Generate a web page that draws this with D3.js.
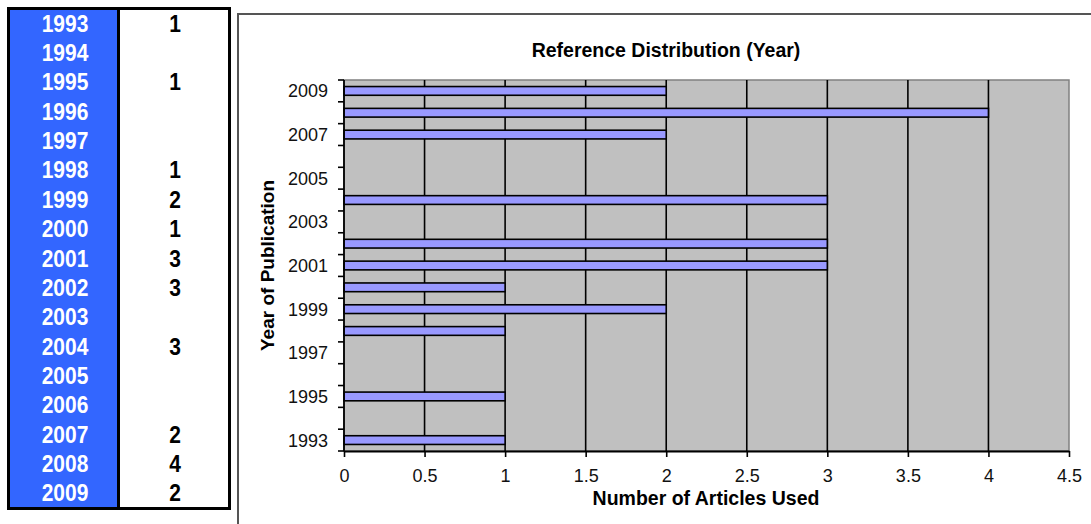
<!DOCTYPE html>
<html>
<head>
<meta charset="utf-8">
<script src="https://cdn.jsdelivr.net/npm/d3@7"></script>
<style>
  body { margin: 0; background: #fff; }
  text { font-family: "Liberation Sans", Arial, sans-serif; }
</style>
</head>
<body>
<svg id="drawing_region"></svg>
<script>
// years and article counts (null = empty cell / no bar)
const years = ["1993","1994","1995","1996","1997","1998","1999","2000","2001",
               "2002","2003","2004","2005","2006","2007","2008","2009"];
const counts = [1, null, 1, null, null, 1, 2, 1, 3, 3, null, 3, null, null, 2, 4, 2];
const xTicks = [0, 0.5, 1, 1.5, 2, 2.5, 3, 3.5, 4, 4.5];
const yLabelYears = ["1993","1995","1997","1999","2001","2003","2005","2007","2009"];

const chartTitle = "Reference Distribution (Year)";
const xTitle = "Number of Articles Used";
const yTitle = "Year of Publication";

const data = years.map((y, i) => ({ year: y, value: counts[i] }));

const W = 1091, H = 524;
const svg = d3.select('#drawing_region')
    .attr('width', W)
    .attr('height', H);

// ---------- table on the left ----------
const table = svg.append('g');
const rowY = d3.scaleBand().domain(years).range([9, 508]);

table.append('rect')
    .attr('x', 10).attr('y', 10)
    .attr('width', 107).attr('height', 497)
    .attr('fill', '#3366ff');

table.append('rect')
    .attr('x', 8.5).attr('y', 8.5)
    .attr('width', 221).attr('height', 500)
    .attr('fill', 'none')
    .attr('stroke', '#000')
    .attr('stroke-width', 3);

table.append('line')
    .attr('x1', 118.5).attr('x2', 118.5)
    .attr('y1', 7).attr('y2', 510)
    .attr('stroke', '#000')
    .attr('stroke-width', 3);

table.selectAll('.yr')
    .data(data)
    .enter()
    .append('text')
    .attr('class', 'yr')
    .attr('transform', d => `translate(65, ${rowY(d.year) + rowY.bandwidth()/2 + 8}) scale(1,1.15)`)
    .attr('text-anchor', 'middle')
    .attr('fill', '#fff')
    .style('font-size', '21px')
    .style('font-weight', 'bold')
    .text(d => d.year);

table.selectAll('.val')
    .data(data.filter(d => d.value != null))
    .enter()
    .append('text')
    .attr('class', 'val')
    .attr('transform', d => `translate(175, ${rowY(d.year) + rowY.bandwidth()/2 + 8}) scale(1,1.15)`)
    .attr('text-anchor', 'middle')
    .attr('fill', '#000')
    .style('font-size', '21px')
    .style('font-weight', 'bold')
    .text(d => d.value);

// ---------- chart box ----------
svg.append('path')
    .attr('d', `M238,${H} V14 H${W}`)
    .attr('fill', 'none')
    .attr('stroke', '#555')
    .attr('stroke-width', 2);

const plot = { left: 344, right: 1069, top: 80, bottom: 451 };

const x = d3.scaleLinear()
    .domain([0, 4.5])
    .range([plot.left, plot.right]);

const y = d3.scaleBand()
    .domain(years.slice().reverse())
    .range([plot.top, plot.bottom])
    .paddingInner(0.6)
    .paddingOuter(0.3);

const step = y.step();

// plot background
svg.append('rect')
    .attr('x', plot.left).attr('y', plot.top)
    .attr('width', plot.right - plot.left)
    .attr('height', plot.bottom - plot.top)
    .attr('fill', '#c0c0c0')
    .attr('stroke', '#808080')
    .attr('stroke-width', 1.5);

// vertical gridlines
svg.append('g')
    .selectAll('line')
    .data(xTicks.filter(t => t > 0 && t < 4.5))
    .enter()
    .append('line')
    .attr('x1', d => x(d))
    .attr('x2', d => x(d))
    .attr('y1', plot.top)
    .attr('y2', plot.bottom)
    .attr('stroke', '#000')
    .attr('stroke-width', 1.6);

// bars
svg.append('g')
    .selectAll('rect')
    .data(data.filter(d => d.value != null))
    .enter()
    .append('rect')
    .attr('x', x(0))
    .attr('y', d => y(d.year))
    .attr('width', d => x(d.value) - x(0))
    .attr('height', y.bandwidth())
    .attr('fill', '#9999ff')
    .attr('stroke', '#000')
    .attr('stroke-width', 1.6);

// x axis
const xAxis = svg.append('g')
    .attr('transform', `translate(0, ${plot.bottom})`)
    .call(d3.axisBottom(x).tickValues(xTicks).tickSize(6).tickSizeOuter(0).tickFormat(d3.format('')));
xAxis.select('.domain').attr('stroke', '#000').attr('stroke-width', 1.8);
xAxis.selectAll('.tick line').attr('stroke', '#000').attr('stroke-width', 1.6);
xAxis.selectAll('.tick text')
    .attr('y', 18)
    .attr('dy', '0.71em')
    .attr('fill', '#111')
    .style('font-size', '18px');

// y axis: tick marks at band boundaries, labels on every other year
const yAxis = svg.append('g')
    .attr('transform', `translate(${plot.left}, 0)`);

yAxis.append('line')
    .attr('x1', 0).attr('x2', 0)
    .attr('y1', plot.top).attr('y2', plot.bottom)
    .attr('stroke', '#000')
    .attr('stroke-width', 1.8);

const boundaries = years.map(d => y(d) - step * 0.3).concat([y('1993') - step * 0.3 + step]);
yAxis.selectAll('.ytick')
    .data(boundaries)
    .enter()
    .append('line')
    .attr('class', 'ytick')
    .attr('x1', -6).attr('x2', 0)
    .attr('y1', d => d).attr('y2', d => d)
    .attr('stroke', '#000')
    .attr('stroke-width', 1.6);

yAxis.selectAll('.ylab')
    .data(yLabelYears)
    .enter()
    .append('text')
    .attr('class', 'ylab')
    .attr('x', -16)
    .attr('y', d => y(d) + y.bandwidth() / 2)
    .attr('dy', '0.36em')
    .attr('text-anchor', 'end')
    .attr('fill', '#111')
    .style('font-size', '18px')
    .text(d => d);

// titles
svg.append('text')
    .attr('x', 666).attr('y', 57)
    .attr('text-anchor', 'middle')
    .style('font-size', '19.5px')
    .style('font-weight', 'bold')
    .text(chartTitle);

svg.append('text')
    .attr('x', 706).attr('y', 505)
    .attr('text-anchor', 'middle')
    .style('font-size', '19.5px')
    .style('font-weight', 'bold')
    .text(xTitle);

svg.append('text')
    .attr('transform', `translate(274, ${(plot.top + plot.bottom) / 2}) rotate(-90)`)
    .attr('text-anchor', 'middle')
    .style('font-size', '19px')
    .style('font-weight', 'bold')
    .text(yTitle);
</script>
</body>
</html>
